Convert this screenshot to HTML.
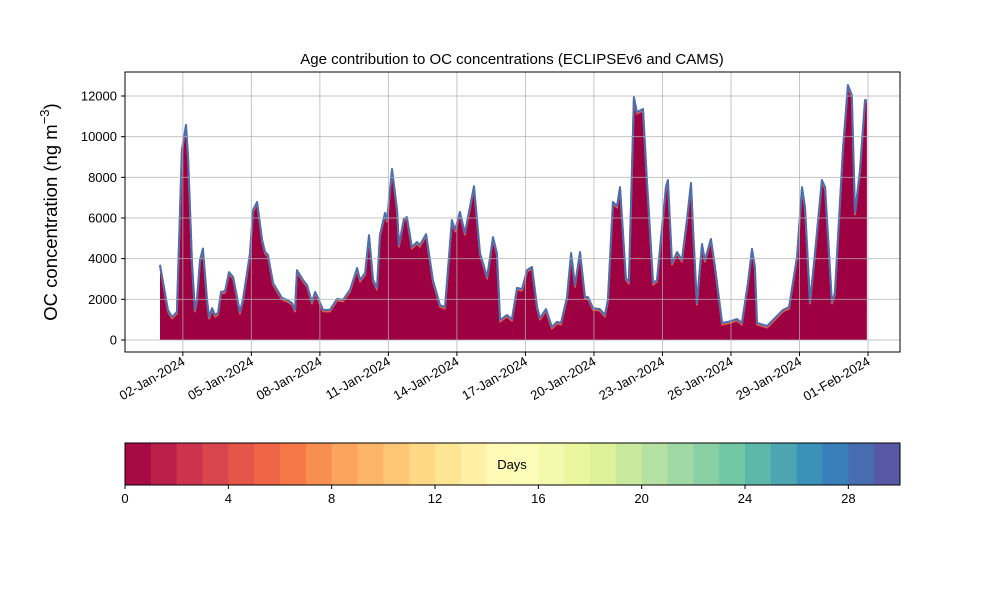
<!DOCTYPE html>
<html><head><meta charset="utf-8"><style>
body{margin:0;background:#fff;}
svg{display:block;font-family:"Liberation Sans","DejaVu Sans",sans-serif;}
</style></head><body>
<svg id="chart" width="1000" height="600" viewBox="0 0 1000 600">
<text x="512" y="64" text-anchor="middle" font-size="15">Age contribution to OC concentrations (ECLIPSEv6 and CAMS)</text>
<text transform="translate(57,212) rotate(-90)" text-anchor="middle" font-size="18.5">OC concentration (ng m<tspan dy="-8" font-size="13">−3</tspan><tspan dy="8">)</tspan></text>
<g id="area"></g>
<g id="grid"></g>
<rect x="125" y="72" width="775" height="280" fill="none" stroke="#000" stroke-width="1"/>
<g id="yticks"></g>
<g id="xticks"></g>
<g id="cbar"></g>
</svg>
<script>
const days=[0,.35,.53,.74,.96,1.14,1.23,1.40,1.53,1.62,1.75,1.88,2.06,2.15,2.28,2.41,2.54,2.67,2.85,3.02,3.20,3.50,3.63,3.94,4.07,4.25,4.47,4.60,4.73,4.95,5.34,5.56,5.78,5.91,6.00,6.26,6.44,6.65,6.79,6.92,7.14,7.44,7.75,8.01,8.32,8.63,8.76,8.98,9.15,9.33,9.50,9.63,9.85,9.94,10.16,10.38,10.46,10.68,10.81,11.03,11.25,11.38,11.65,11.95,12.26,12.48,12.78,12.92,13.13,13.35,13.75,14.01,14.32,14.58,14.75,14.89,15.19,15.41,15.63,15.85,16.07,16.29,16.51,16.64,16.90,17.16,17.38,17.56,17.82,18.00,18.17,18.39,18.61,18.74,18.96,19.26,19.48,19.61,19.83,20.01,20.14,20.40,20.53,20.75,20.88,21.15,21.32,21.59,21.76,22.15,22.24,22.42,22.64,22.85,23.07,23.25,23.34,23.51,23.73,23.86,24.12,24.30,24.61,24.87,25.26,25.48,25.74,25.92,26.05,26.14,26.58,27.28,27.54,27.89,28.11,28.24,28.46,28.68,28.98,29.12,29.42,29.55,29.90,30.12,30.29,30.43,30.65,30.87,30.95];
const values=[3700,1470,1130,1380,9350,10580,9000,3800,1480,2000,3930,4500,2000,1130,1570,1230,1330,2360,2410,3340,3100,1380,1970,4280,6390,6790,4920,4330,4180,2800,2070,1970,1820,1480,3440,2950,2700,1870,2360,2070,1480,1480,2020,1970,2460,3540,2950,3290,5160,2950,2560,5160,6250,5900,8410,6390,4670,5950,6050,4570,4820,4670,5210,2950,1720,1620,5900,5410,6300,5260,7570,4280,3100,5060,4280,980,1230,1030,2560,2510,3440,3590,1620,1080,1520,640,890,840,2110,4280,2700,4330,2110,2110,1570,1520,1230,1970,6790,6590,7520,3050,2850,11950,11210,11360,7870,2800,2950,7520,7870,3790,4330,3930,5900,7720,5410,1820,4720,3930,4970,3590,840,890,1030,840,2800,4480,3590,840,690,1480,1620,4080,7520,6540,1870,4280,7870,7520,1870,2310,9350,12540,12050,6250,8360,11800,11800];
const yTicks=[0,2000,4000,6000,8000,10000,12000];
const xTickDays=[1,4,7,10,13,16,19,22,25,28,31];
const xTickLabels=["02-Jan-2024","05-Jan-2024","08-Jan-2024","11-Jan-2024","14-Jan-2024","17-Jan-2024","20-Jan-2024","23-Jan-2024","26-Jan-2024","29-Jan-2024","01-Feb-2024"];
const cbTicks=[0,4,8,12,16,20,24,28];

const NS="http://www.w3.org/2000/svg";
const X=d=>160+d*(708/31);
const Y=v=>340-v*(244/12000);
function mk(tag,attrs,parent){const e=document.createElementNS(NS,tag);for(const k in attrs)e.setAttribute(k,attrs[k]);parent.appendChild(e);return e;}
const grid=document.getElementById('grid'),area=document.getElementById('area');
const yt=document.getElementById('yticks'),xt=document.getElementById('xticks'),cb=document.getElementById('cbar');

yTicks.forEach(v=>{
 const g=mk('line',{x1:125,x2:900,y1:Y(v),y2:Y(v),stroke:'#b0b0b0','stroke-width':1,'stroke-opacity':0.75},grid);
 
 
 mk('line',{x1:121,x2:125,y1:Y(v),y2:Y(v),stroke:'#000'},yt);
 const t=mk('text',{x:117,y:Y(v)+4.5,'text-anchor':'end','font-size':13},yt);
 t.textContent=v;
 
 
});
xTickDays.forEach((d,i)=>{
 const x=X(d);
 const g=mk('line',{x1:x,x2:x,y1:72,y2:352,stroke:'#b0b0b0','stroke-width':1,'stroke-opacity':0.75},grid);
 
 
 mk('line',{x1:x,x2:x,y1:352,y2:356,stroke:'#000'},xt);
 const t=mk('text',{transform:`translate(${x+3},${364}) rotate(-30)`,'text-anchor':'end','font-size':13},xt);
 t.textContent=xTickLabels[i];
 
 
});

let pts=days.map((d,i)=>X(d).toFixed(1)+','+Y(values[i]).toFixed(1));
const poly='M'+X(days[0])+','+Y(0)+' L'+pts.join(' L')+' L'+X(days[days.length-1])+','+Y(0)+' Z';
const fill=mk('path',{d:poly,fill:'#9e0142'},area);


const l1=mk('polyline',{points:pts.join(' '),fill:'none',stroke:'#e0604c','stroke-width':2,'stroke-linejoin':'round',transform:'translate(0,1.5)'},area);


const l2=mk('polyline',{points:pts.join(' '),fill:'none',stroke:'#4a6fb0','stroke-width':2,'stroke-linejoin':'round'},area);



const anchors=['#9e0142','#d53e4f','#f46d43','#fdae61','#fee08b','#ffffbf','#e6f598','#abdda4','#66c2a5','#3288bd','#5e4fa2'];
function hex(h){return [1,3,5].map(i=>parseInt(h.substr(i,2),16));}
function spectral(t){const p=t*10,i=Math.min(9,Math.floor(p)),f=p-i;const a=hex(anchors[i]),b=hex(anchors[i+1]);return 'rgb('+a.map((v,k)=>Math.round(v+(b[k]-v)*f)).join(',')+')';}
const cx=125,cw=775,cy=443,ch=42;
for(let i=0;i<30;i++){
 const r=mk('rect',{x:cx+i*cw/30,y:cy,width:cw/30+0.5,height:ch,fill:spectral((i+0.5)/30)},cb);
 
 
}
mk('rect',{x:cx,y:cy,width:cw,height:ch,fill:'none',stroke:'#000'},cb);
const dl=mk('text',{x:512,y:469,'text-anchor':'middle','font-size':13},cb);
dl.textContent='Days';


cbTicks.forEach(v=>{
 const x=cx+v*cw/30;
 mk('line',{x1:x,x2:x,y1:485,y2:489,stroke:'#000'},cb);
 const t=mk('text',{x:x,y:503,'text-anchor':'middle','font-size':13},cb);
 t.textContent=v;
 
 
});
</script>
</body></html>
